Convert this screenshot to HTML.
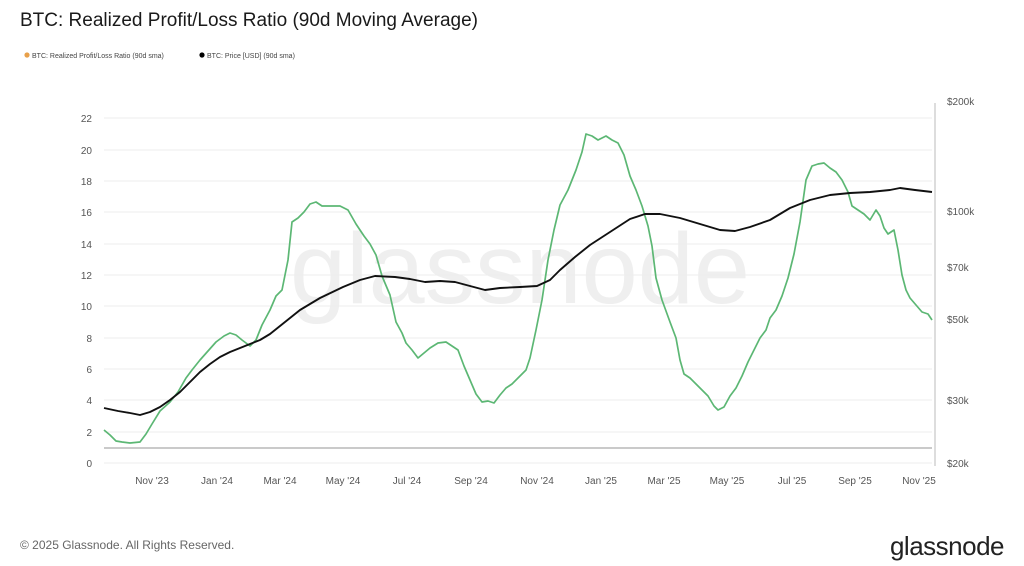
<!DOCTYPE html>
<html><head><meta charset="utf-8"><style>
body{margin:0;background:#fff;}
svg{display:block;font-family:"Liberation Sans",sans-serif;}
</style></head><body>
<svg width="1024" height="566" viewBox="0 0 1024 566">
<rect width="1024" height="566" fill="#fff"/>
<text x="20" y="26" font-size="19" fill="#1a1a1a">BTC: Realized Profit/Loss Ratio (90d Moving Average)</text>
<circle cx="27" cy="55" r="2.6" fill="#e8a04a"/>
<text x="32" y="58" font-size="7" fill="#444">BTC: Realized Profit/Loss Ratio (90d sma)</text>
<circle cx="202" cy="55" r="2.6" fill="#000"/>
<text x="207" y="58" font-size="7" fill="#444">BTC: Price [USD] (90d sma)</text>
<text x="520" y="303" font-size="100" fill="#efefef" text-anchor="middle" textLength="460" lengthAdjust="spacingAndGlyphs">glassnode</text>
<g stroke="#eeeeee" stroke-width="1">
<line x1="104" x2="932" y1="463" y2="463"/><line x1="104" x2="932" y1="432" y2="432"/><line x1="104" x2="932" y1="400" y2="400"/><line x1="104" x2="932" y1="369" y2="369"/><line x1="104" x2="932" y1="338" y2="338"/><line x1="104" x2="932" y1="306" y2="306"/><line x1="104" x2="932" y1="275" y2="275"/><line x1="104" x2="932" y1="244" y2="244"/><line x1="104" x2="932" y1="212" y2="212"/><line x1="104" x2="932" y1="181" y2="181"/><line x1="104" x2="932" y1="150" y2="150"/><line x1="104" x2="932" y1="118" y2="118"/>
</g>
<line x1="104" x2="932" y1="448" y2="448" stroke="#aaa" stroke-width="1.2"/>
<line x1="935" x2="935" y1="103" y2="466" stroke="#bbb" stroke-width="1"/>
<g font-size="10" fill="#555" text-anchor="end">
<text x="92" y="467">0</text><text x="92" y="436">2</text><text x="92" y="404">4</text><text x="92" y="373">6</text><text x="92" y="342">8</text><text x="92" y="310">10</text><text x="92" y="279">12</text><text x="92" y="248">14</text><text x="92" y="216">16</text><text x="92" y="185">18</text><text x="92" y="154">20</text><text x="92" y="122">22</text>
</g>
<g font-size="10" fill="#555">
<text x="947" y="105">$200k</text><text x="947" y="215">$100k</text><text x="947" y="271">$70k</text><text x="947" y="323">$50k</text><text x="947" y="404">$30k</text><text x="947" y="467">$20k</text>
</g>
<g font-size="10" fill="#555" text-anchor="middle">
<text x="152" y="484">Nov '23</text><text x="217" y="484">Jan '24</text><text x="280" y="484">Mar '24</text><text x="343" y="484">May '24</text><text x="407" y="484">Jul '24</text><text x="471" y="484">Sep '24</text><text x="537" y="484">Nov '24</text><text x="601" y="484">Jan '25</text><text x="664" y="484">Mar '25</text><text x="727" y="484">May '25</text><text x="792" y="484">Jul '25</text><text x="855" y="484">Sep '25</text><text x="919" y="484">Nov '25</text>
</g>
<polyline fill="none" stroke="#5cb774" stroke-width="1.7" stroke-linejoin="round" points="104,430 110,435 116,441 122,442 130,443 140,442 146,434 152,424 160,411 170,402 178,392 186,378 192,370 200,360 208,351 216,342 224,336 230,333 236,335 242,340 250,346 256,340 262,325 270,310 276,296 282,290 288,260 292,222 298,218 304,212 310,204 316,202 322,206 330,206 340,206 348,210 356,224 364,236 370,244 376,255 382,276 390,295 396,322 402,333 406,343 412,350 418,358 424,353 430,348 438,343 446,342 452,346 458,350 464,366 470,380 476,394 482,402 488,401 494,403 500,395 506,388 512,384 520,376 526,370 530,358 536,330 542,300 548,260 554,230 560,205 568,190 576,170 582,152 586,134 592,136 598,140 606,136 612,140 618,143 624,155 630,176 636,190 642,206 648,226 652,246 656,278 662,300 670,322 676,338 680,360 684,374 690,378 696,384 702,390 708,396 714,406 718,410 724,407 730,396 736,388 742,376 748,362 754,350 760,338 766,330 770,318 776,310 782,296 788,278 794,254 800,222 806,180 812,166 818,164 824,163 830,168 836,172 842,180 848,192 852,206 858,210 864,214 870,220 876,210 880,216 884,228 888,234 894,230 898,250 902,275 906,290 910,298 916,305 922,312 928,314 932,320"/>
<polyline fill="none" stroke="#111" stroke-width="1.9" stroke-linejoin="round" points="104,408 118,411 130,413 140,415 150,412 160,407 170,400 180,392 190,382 200,372 210,364 220,357 230,352 240,348 250,344 260,340 270,334 280,326 290,318 300,310 320,298 343,287 360,280 375,276 395,277 410,279 425,282 440,281 455,282 470,286 485,290 500,288 520,287 537,286 550,280 560,270 575,257 590,245 610,232 630,219 645,214 660,214 680,218 700,224 720,230 735,231 750,227 770,220 790,208 810,200 830,195 850,193 870,192 890,190 900,188 915,190 932,192"/>
<text x="20" y="549" font-size="12" fill="#666">© 2025 Glassnode. All Rights Reserved.</text>
<text x="1004" y="555" font-size="26" fill="#222" text-anchor="end" letter-spacing="-0.5">glassnode</text>
</svg>
</body></html>
